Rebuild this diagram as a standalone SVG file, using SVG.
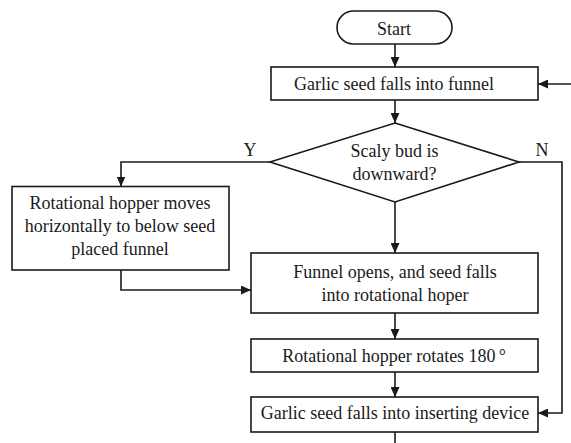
<svg xmlns="http://www.w3.org/2000/svg" width="571" height="443" viewBox="0 0 571 443">
<defs>
<style>
.shape{fill:#fff;stroke:#1a1a1a;stroke-width:1.6}
.line{fill:none;stroke:#1a1a1a;stroke-width:1.6}
text{font-family:"Liberation Serif","Times New Roman",serif;font-size:18px;fill:#1a1a1a;text-anchor:middle}
</style>
<marker id="arr" markerUnits="userSpaceOnUse" markerWidth="10" markerHeight="9" refX="10" refY="4.5" orient="auto">
<path d="M0,0 L10,4.5 L0,9 z" fill="#1a1a1a"/>
</marker>
</defs>
<rect width="571" height="443" fill="#fff"/>
<g id="connectors">
<path class="line" d="M395,44 V67" marker-end="url(#arr)"/>
<path class="line" d="M395,100 V123" marker-end="url(#arr)"/>
<path class="line" d="M270,162 H121 V186.5" marker-end="url(#arr)"/>
<path class="line" d="M121,270 V290 H251" marker-end="url(#arr)"/>
<path class="line" d="M395,202 V253" marker-end="url(#arr)"/>
<path class="line" d="M519,162 H562 V413 H538" marker-end="url(#arr)"/>
<path class="line" d="M395,313 V339" marker-end="url(#arr)"/>
<path class="line" d="M395,372 V397" marker-end="url(#arr)"/>
<path class="line" d="M395,432 V443"/>
<path class="line" d="M571,84 H538" marker-end="url(#arr)"/>
<text x="250" y="156">Y</text>
<text x="542" y="156">N</text>
</g>
<g id="start">
<rect class="shape" x="337" y="11" width="115" height="33" rx="16.5" ry="16.5"/>
<text x="394" y="35">Start</text>
</g>
<g id="falls-funnel">
<rect class="shape" x="271" y="67" width="267" height="33"/>
<text x="394" y="90">Garlic seed falls into funnel</text>
</g>
<g id="decision">
<polygon class="shape" points="395,123 519,162 395,202 270,162"/>
<text x="394.5" y="157">Scaly bud is</text>
<text x="394.5" y="180">downward?</text>
</g>
<g id="hopper-moves">
<rect class="shape" x="12" y="186.5" width="217" height="83.5"/>
<text x="120" y="208.5">Rotational hopper moves</text>
<text x="120" y="231.8">horizontally to below seed</text>
<text x="120" y="255">placed funnel</text>
</g>
<g id="funnel-opens">
<rect class="shape" x="251" y="253" width="287" height="60"/>
<text x="395" y="278">Funnel opens, and seed falls</text>
<text x="395" y="300.5">into rotational hoper</text>
</g>
<g id="rotates">
<rect class="shape" x="251" y="339" width="287" height="33"/>
<text x="394" y="362">Rotational hopper rotates 180<tspan dx="3">°</tspan></text>
</g>
<g id="inserting">
<rect class="shape" x="251" y="397" width="287" height="35"/>
<text x="395" y="418.5">Garlic seed falls into inserting device</text>
</g>
</svg>
